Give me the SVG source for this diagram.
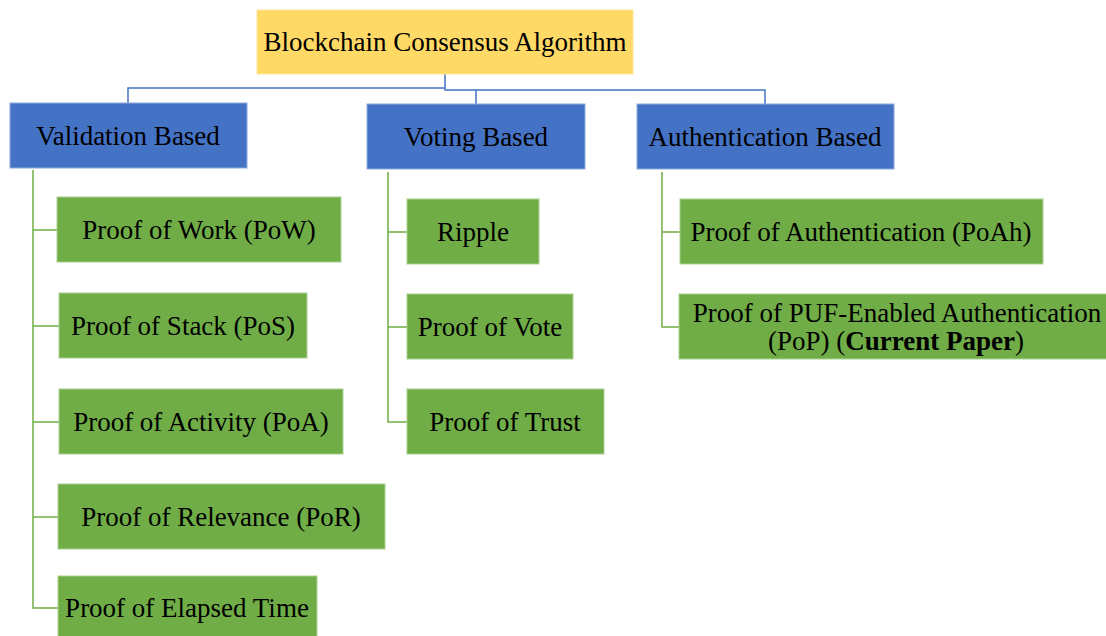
<svg xmlns="http://www.w3.org/2000/svg" width="1106" height="636" viewBox="0 0 1106 636">
<style>
text{font-family:"Liberation Serif","Times New Roman",serif;font-size:27px;fill:#000;text-anchor:middle}
.y{fill:#FFD966;stroke:#FFE699;stroke-width:1}
.b{fill:#4472C4;stroke:#8FAADC;stroke-width:1}
.g{fill:#70AD47;stroke:#A9D18E;stroke-width:1}
.cb{fill:none;stroke:#4472C4;stroke-width:1.5}
.cg{fill:none;stroke:#70AD47;stroke-width:1.5}
</style>
<rect width="1106" height="636" fill="#fff"/>
<g id="connectors">
<path class="cb" d="M445 74V88H128V103M445 88V90H765V104M476 90V104"/>
<path class="cg" d="M33 170V608H58M33 230H57M33 326H59M33 422H59M33 517H58"/>
<path class="cg" d="M388 172V422H407M388 232H407M388 327H407"/>
<path class="cg" d="M662 172V327H679M662 232H680"/>
</g>
<g id="root"><rect class="y" x="257" y="10" width="376" height="64"/><text x="445" y="51">Blockchain Consensus Algorithm</text></g>
<g id="validation"><rect class="b" x="10" y="103" width="237" height="65"/><text x="128" y="145">Validation Based</text></g>
<g id="voting"><rect class="b" x="367" y="104" width="218" height="65"/><text x="476" y="146">Voting Based</text></g>
<g id="authentication"><rect class="b" x="637" y="104" width="257" height="65"/><text x="765" y="146">Authentication Based</text></g>
<g id="pow"><rect class="g" x="57" y="197" width="284" height="65"/><text x="199" y="239">Proof of Work (PoW)</text></g>
<g id="pos"><rect class="g" x="59" y="293" width="248" height="65"/><text x="183" y="335">Proof of Stack (PoS)</text></g>
<g id="poa"><rect class="g" x="59" y="389" width="284" height="65"/><text x="201" y="431">Proof of Activity (PoA)</text></g>
<g id="por"><rect class="g" x="58" y="484" width="327" height="65"/><text x="221" y="526">Proof of Relevance (PoR)</text></g>
<g id="poet"><rect class="g" x="58" y="576" width="259" height="65"/><text x="187" y="617">Proof of Elapsed Time</text></g>
<g id="ripple"><rect class="g" x="407" y="199" width="132" height="65"/><text x="473" y="241">Ripple</text></g>
<g id="pov"><rect class="g" x="407" y="294" width="166" height="65"/><text x="490" y="336">Proof of Vote</text></g>
<g id="pot"><rect class="g" x="407" y="389" width="197" height="65"/><text x="505" y="431">Proof of Trust</text></g>
<g id="poah"><rect class="g" x="680" y="199" width="363" height="65"/><text x="861" y="241">Proof of Authentication (PoAh)</text></g>
<g id="pop"><rect class="g" x="679" y="294" width="440" height="65"/><text x="897" y="322">Proof of PUF-Enabled Authentication</text><text x="896" y="350">(PoP) (<tspan font-weight="bold">Current Paper</tspan>)</text></g>
</svg>
